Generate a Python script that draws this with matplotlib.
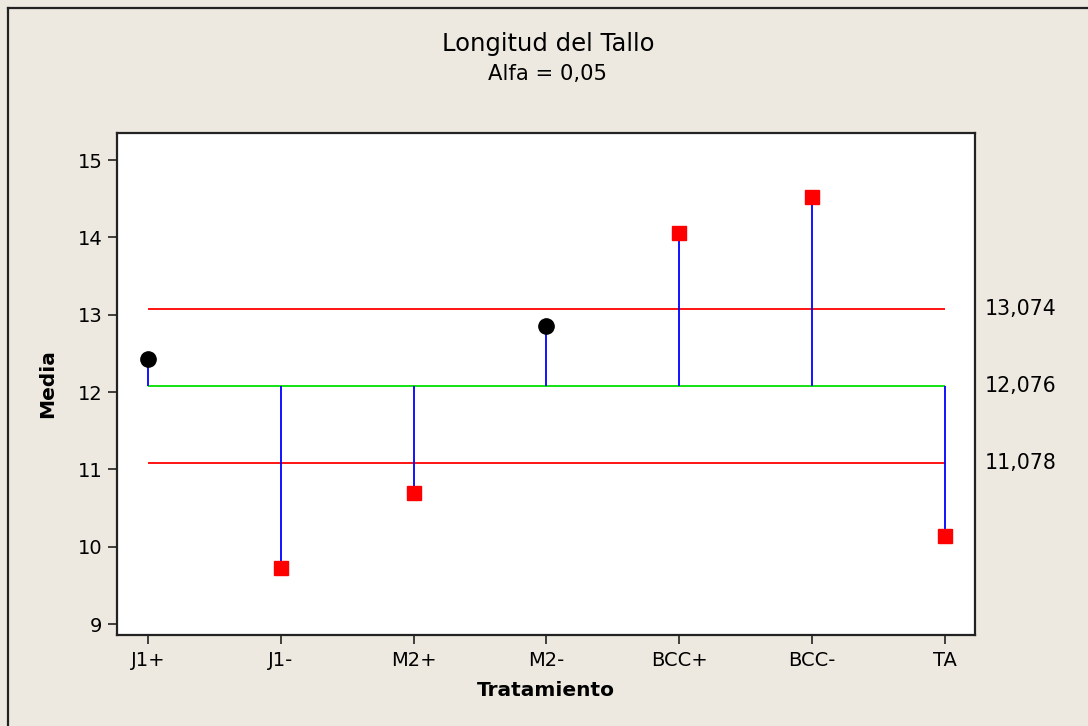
import matplotlib
matplotlib.use("Agg")
import matplotlib.pyplot as plt
from matplotlib.lines import Line2D

tratamientos = ["J1+", "J1-", "M2+", "M2-", "BCC+", "BCC-", "TA"]
medias = [12.43, 9.72, 10.70, 12.85, 14.06, 14.52, 10.14]
centro = 12.076
lsd = 13.074
lid = 11.078
fuera = [False, True, True, False, True, True, True]

bg = "#EDE9E0"
plt.rcParams["font.family"] = "DejaVu Sans"

W, H = 1088, 726
fig = plt.figure(figsize=(W / 100, H / 100), dpi=100, facecolor=bg)
ax = fig.add_axes([117 / W, 1 - 635 / H, (975 - 117) / W, (635 - 133) / H])
ax.set_facecolor("white")

x = list(range(len(tratamientos)))
ax.hlines([lsd, lid], 0, len(x) - 1, color="#FF0000", lw=1.3, zorder=2)
ax.hlines(centro, 0, len(x) - 1, color="#00E000", lw=1.3, zorder=2)
ax.vlines(x, centro, medias, color="#0000FF", lw=1.3, zorder=3)

for xi, m, f in zip(x, medias, fuera):
    if f:
        ax.plot(xi, m, "s", color="#FF0000", ms=9.5, mec="#FF0000", zorder=4)
    else:
        ax.plot(xi, m, "o", color="black", ms=11, zorder=4)

ax.set_xlim(-0.233, 6.226)
ax.set_ylim(8.86, 15.35)
ax.set_xticks(x)
ax.set_xticklabels(tratamientos)
ax.set_yticks(range(9, 16))
ax.tick_params(labelsize=14, length=6.5, width=1.2, direction="out", color="#222222")
ax.tick_params(axis="x", pad=5)
ax.tick_params(axis="y", pad=4)
for s in ax.spines.values():
    s.set_linewidth(1.6)
    s.set_color("#222222")

ax.set_xlabel("Tratamiento", fontsize=14.5, fontweight="bold", labelpad=8)
ax.set_ylabel("Media", fontsize=14.5, fontweight="bold", labelpad=15)

for v in [lsd, centro, lid]:
    ax.text(6.226 + 0.075, v, f"{v:.3f}".replace(".", ","), fontsize=14.8,
            va="center", ha="left", clip_on=False)

fig.text(548 / W, 1 - 51 / H, "Longitud del Tallo", fontsize=17.5, ha="center", va="baseline")
fig.text(548 / W, 1 - 80 / H, "Alfa = 0,05", fontsize=15.2, ha="center", va="baseline")

fig.add_artist(Line2D([8 / W, 8 / W], [0, 1 - 8 / H], transform=fig.transFigure, color="#222222", lw=1.6))
fig.add_artist(Line2D([8 / W, 1], [1 - 8 / H, 1 - 8 / H], transform=fig.transFigure, color="#222222", lw=1.6))

fig.savefig("out.png", dpi=100, facecolor=bg)
